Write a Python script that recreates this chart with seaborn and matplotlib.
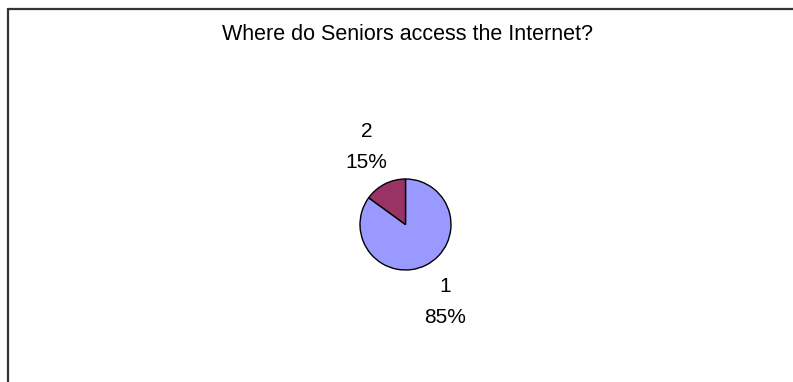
import matplotlib
matplotlib.use("Agg")
import matplotlib.pyplot as plt
from matplotlib.lines import Line2D
import seaborn as sns

# Survey answers: where seniors go online
categories = ["1", "2"]
shares = [85, 15]
slice_colors = ["#9999FF", "#993366"]
title_text = "Where do Seniors access the Internet?"

sns.set_theme(style="white")
plt.rcParams["font.family"] = ["Liberation Sans", "DejaVu Sans"]

W, H = 793, 382
fig = plt.figure(figsize=(W / 100, H / 100), dpi=100)
fig.patch.set_facecolor("white")

# Pie axes: centre (405.5, 224.5) px, radius 45.5 px
cx, cy, r = 405.5, 224.5, 45.5
ax = fig.add_axes([(cx - r) / W, (H - cy - r) / H, 2 * r / W, 2 * r / H])

labels = [f"{c}\n{v}%" for c, v in zip(categories, shares)]
wedges, texts = ax.pie(
    shares,
    colors=slice_colors,
    labels=labels,
    startangle=90,
    counterclock=False,
    radius=1.0,
    labeldistance=1.9,
    wedgeprops=dict(edgecolor="black", linewidth=1.0),
    textprops=dict(fontsize=15, color="black"),
)
ax.set_xlim(-1, 1)
ax.set_ylim(-1, 1)
ax.set_aspect("equal")
ax.axis("off")
for t in texts:
    t.set_horizontalalignment("center")
    t.set_verticalalignment("center")
    t.set_linespacing(1.8)
    t.set_clip_on(False)

# Chart title
fig.text(407.5 / W, 1 - 35 / H, title_text, ha="center", va="center",
         fontsize=15.5, color="black")

# Chart area frame (top and left edges visible)
frame_kw = dict(color="#333333", linewidth=1.6, transform=fig.transFigure)
fig.add_artist(Line2D([8 / W, 1.0], [1 - 8.5 / H, 1 - 8.5 / H], **frame_kw))
fig.add_artist(Line2D([8 / W, 8 / W], [0.0, 1 - 8.5 / H], **frame_kw))

fig.savefig("out.png", dpi=100, facecolor="white")
